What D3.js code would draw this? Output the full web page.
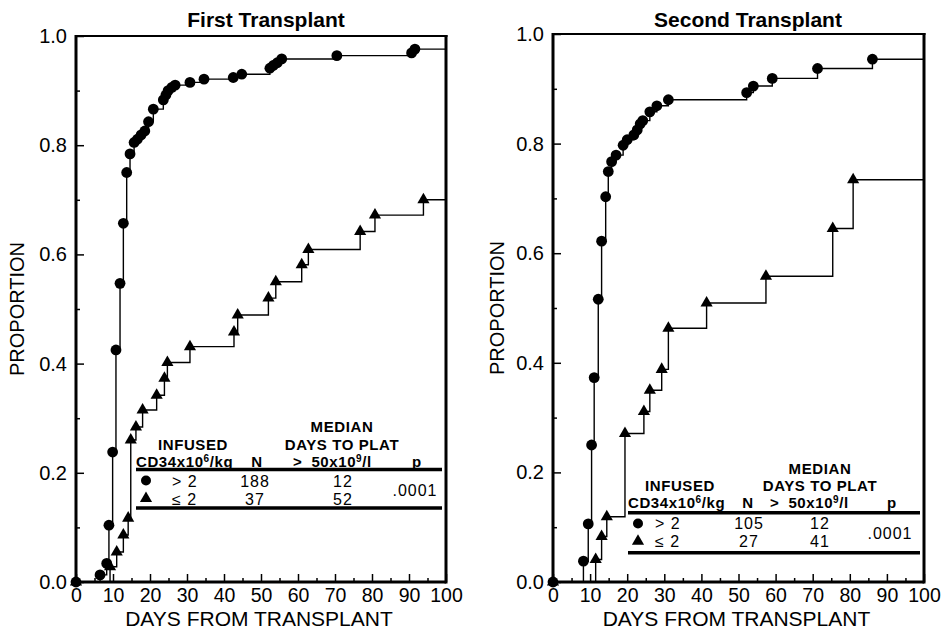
<!DOCTYPE html>
<html>
<head>
<meta charset="utf-8">
<script src="https://cdn.jsdelivr.net/npm/d3@7"></script>
<style>
  html, body { margin: 0; padding: 0; background: #fff; }
  svg { display: block; font-family: "Liberation Sans", Arial, Helvetica, sans-serif; }
</style>
</head>
<body>
<svg id="chart" width="941" height="636"></svg>
<script>
// ---------- data ----------
const panelTitles = ["First Transplant", "Second Transplant"];
const xTickValues = [0, 10, 20, 30, 40, 50, 60, 70, 80, 90, 100];
const xMinorValues = [5, 15, 25, 35, 45, 55, 65, 75, 85, 95];
const yTickValues = [0, 0.2, 0.4, 0.6, 0.8, 1.0];
const yMinorValues = [0.1, 0.3, 0.5, 0.7, 0.9];
const xAxisTitle = "DAYS FROM TRANSPLANT";
const yAxisTitle = "PROPORTION";

// First transplant, CD34 > 2 (circles)
const firstHighDays = [0, 6.5, 8.3, 8.9, 9.9, 10.8, 11.9, 12.8, 13.7, 14.6, 15.7, 16.6, 17.6, 18.6, 19.6, 20.9, 23.6, 24.3, 24.9, 25.9, 26.8, 30.8, 34.6, 42.5, 44.8, 52.4, 53.3, 54.4, 55.6, 70.5, 90.7, 91.6];
const firstHighProp = [0, 0.013, 0.034, 0.104, 0.238, 0.425, 0.547, 0.657, 0.750, 0.784, 0.805, 0.811, 0.819, 0.826, 0.843, 0.866, 0.883, 0.892, 0.900, 0.906, 0.910, 0.915, 0.921, 0.924, 0.930, 0.941, 0.946, 0.951, 0.958, 0.964, 0.969, 0.976];
// First transplant, CD34 <= 2 (triangles)
const firstLowDays = [0, 9.2, 11.0, 12.8, 14.1, 14.8, 16.2, 18.0, 21.8, 23.9, 24.7, 30.8, 42.7, 43.7, 52.0, 54.0, 61.0, 62.8, 76.8, 80.8, 93.9];
const firstLowProp = [0, 0.028, 0.055, 0.086, 0.117, 0.260, 0.284, 0.315, 0.342, 0.373, 0.402, 0.431, 0.458, 0.489, 0.520, 0.550, 0.581, 0.609, 0.642, 0.672, 0.700];
// Second transplant, CD34 > 2 (circles)
const secondHighDays = [0, 8.2, 9.5, 10.4, 11.1, 12.2, 13.1, 14.2, 14.9, 15.8, 17.0, 18.9, 20.0, 21.8, 22.7, 23.5, 24.2, 26.1, 28.0, 31.1, 52.2, 54.0, 59.1, 71.3, 86.1];
const secondHighProp = [0, 0.038, 0.106, 0.250, 0.373, 0.516, 0.622, 0.703, 0.749, 0.767, 0.779, 0.797, 0.807, 0.816, 0.825, 0.836, 0.842, 0.858, 0.869, 0.880, 0.893, 0.905, 0.919, 0.937, 0.954];
// Second transplant, CD34 <= 2 (triangles)
const secondLowDays = [0, 11.5, 13.1, 14.5, 19.4, 24.5, 26.1, 29.3, 31.1, 41.4, 57.4, 75.4, 80.9];
const secondLowProp = [0, 0.041, 0.083, 0.119, 0.271, 0.311, 0.350, 0.388, 0.463, 0.509, 0.558, 0.645, 0.734];

// Legend table
const legendGroups = ["> 2", "\u2264 2"];
const firstN = ["188", "37"];
const firstMedian = ["12", "52"];
const secondN = ["105", "27"];
const secondMedian = ["12", "41"];
const pValue = ".0001";

// ---------- layout ----------
const panels = [
  { title: panelTitles[0], xr: [76, 446], yr: [582, 36], high: [firstHighDays, firstHighProp], low: [firstLowDays, firstLowProp],
    n: firstN, med: firstMedian, titleX: 266, yTitleX: 24,
    leg: { x: 136, y: 469.5, w: 306, median: 206, infused: 57, nx: 121, gt: 157, px: 281, mk: 10, grp: 36, nv: 119, mv: 207, r1: 17, r2: 35, pv: 279, pvy: 26.5, bot: 38.5, hdr: -2.5, h2: -20, h1: -37.5 } },
  { title: panelTitles[1], xr: [553, 924], yr: [582, 34], high: [secondHighDays, secondHighProp], low: [secondLowDays, secondLowProp],
    n: secondN, med: secondMedian, titleX: 748, yTitleX: 504,
    leg: { x: 628, y: 512.7, w: 292, median: 192, infused: 52, nx: 120, gt: 142, px: 264, mk: 10, grp: 27, nv: 121, mv: 192, r1: 16.8, r2: 34.6, pv: 262, pvy: 26.3, bot: 40, hdr: -4.5, h2: -21.5, h1: -39 } }
];

const svg = d3.select("#chart");

panels.forEach(P => {
  const x = d3.scaleLinear().domain([0, 100]).range(P.xr);
  const y = d3.scaleLinear().domain([0, 1]).range(P.yr);
  const g = svg.append("g");

  // title
  g.append("text").attr("x", P.titleX).attr("y", 27).attr("text-anchor", "middle")
    .attr("font-size", 21).attr("font-weight", "bold").text(P.title);

  // axes with inward ticks
  const xAxis = g.append("g").attr("transform", `translate(0,${y(0)})`)
    .call(d3.axisBottom(x).tickValues(xTickValues).tickSizeInner(-8).tickSizeOuter(0).tickPadding(6).tickFormat(d3.format("d")));
  xAxis.select(".domain").remove();
  xAxis.selectAll("text").attr("font-size", 19.5).attr("fill", "#000").attr("font-family", null);
  xAxis.selectAll("line").attr("stroke", "#000").attr("stroke-width", 1.5);
  const xMinor = g.append("g").attr("transform", `translate(0,${y(0)})`)
    .call(d3.axisBottom(x).tickValues(xMinorValues).tickSizeInner(-4).tickSizeOuter(0).tickFormat(""));
  xMinor.select(".domain").remove();
  xMinor.selectAll("line").attr("stroke", "#000").attr("stroke-width", 1.5);

  const yAxis = g.append("g").attr("transform", `translate(${x(0)},0)`)
    .call(d3.axisLeft(y).tickValues(yTickValues).tickSizeInner(-8).tickSizeOuter(0).tickPadding(9).tickFormat(d3.format(".1f")));
  yAxis.select(".domain").remove();
  yAxis.selectAll("text").attr("font-size", 20).attr("fill", "#000").attr("font-family", null);
  yAxis.selectAll("line").attr("stroke", "#000").attr("stroke-width", 1.5);
  const yMinor = g.append("g").attr("transform", `translate(${x(0)},0)`)
    .call(d3.axisLeft(y).tickValues(yMinorValues).tickSizeInner(-4).tickSizeOuter(0).tickFormat(""));
  yMinor.select(".domain").remove();
  yMinor.selectAll("line").attr("stroke", "#000").attr("stroke-width", 1.5);

  // frame
  const fx0 = x(0), fx1 = x(100), fy0 = y(0), fy1 = y(1);
  g.append("line").attr("x1", fx0).attr("x2", fx1 + 1.5).attr("y1", fy1).attr("y2", fy1).attr("stroke", "#000").attr("stroke-width", 2);
  g.append("line").attr("x1", fx0).attr("x2", fx0).attr("y1", fy1 - 1).attr("y2", fy0 + 1.5).attr("stroke", "#000").attr("stroke-width", 3);
  g.append("line").attr("x1", fx1).attr("x2", fx1).attr("y1", fy1 - 1).attr("y2", fy0 + 1.5).attr("stroke", "#000").attr("stroke-width", 3);
  g.append("line").attr("x1", fx0).attr("x2", fx1).attr("y1", fy0).attr("y2", fy0).attr("stroke", "#000").attr("stroke-width", 3);

  // axis titles
  g.append("text").attr("x", (fx0 + fx1) / 2 - 2).attr("y", 626).attr("text-anchor", "middle")
    .attr("font-size", 21).text(xAxisTitle);
  g.append("text").attr("transform", `translate(${P.yTitleX},${(fy0 + fy1) / 2}) rotate(-90)`)
    .attr("text-anchor", "middle").attr("font-size", 20).text(yAxisTitle);

  // step curves
  const line = d3.line().x(d => x(d[0])).y(d => y(d[1])).curve(d3.curveStepAfter);
  const series = [P.low, P.high].map(([days, props]) => days.map((d, i) => [d, props[i]]));
  series.forEach(pts => {
    const ext = pts.concat([[100, pts[pts.length - 1][1]]]);
    g.append("path").datum(ext).attr("d", line).attr("fill", "none").attr("stroke", "#000").attr("stroke-width", 1.4);
  });
  const tri = d3.symbol().type(d3.symbolTriangle).size(64);
  g.selectAll(".tri").data(series[0]).join("path").attr("class", "tri")
    .attr("transform", d => `translate(${x(d[0])},${y(d[1])})`).attr("d", tri).attr("fill", "#000");
  g.selectAll(".dot").data(series[1]).join("circle").attr("class", "dot")
    .attr("cx", d => x(d[0])).attr("cy", d => y(d[1])).attr("r", 5.4).attr("fill", "#000");

  // legend table
  const L = P.leg;
  const lg = g.append("g").attr("transform", `translate(${L.x},${L.y})`);
  const hdr = (tx, ty, anchor, txt) => lg.append("text").attr("x", tx).attr("y", ty).attr("text-anchor", anchor)
    .attr("font-size", 15).attr("font-weight", "bold").attr("letter-spacing", 0.6).text(txt);
  hdr(L.median, L.h1, "middle", "MEDIAN");
  hdr(L.infused, L.h2, "middle", "INFUSED");
  hdr(L.median, L.h2, "middle", "DAYS TO PLAT");
  const cd = lg.append("text").attr("x", 0).attr("y", L.hdr).attr("font-size", 15).attr("font-weight", "bold").attr("letter-spacing", 0.6);
  cd.append("tspan").text("CD34x10");
  cd.append("tspan").attr("font-size", 10).attr("dy", -5).text("6");
  cd.append("tspan").attr("dy", 5).text("/kg");
  hdr(L.nx, L.hdr, "middle", "N");
  const gt = lg.append("text").attr("x", L.gt).attr("y", L.hdr).attr("font-size", 15).attr("font-weight", "bold").attr("letter-spacing", 0.6);
  gt.append("tspan").text(">");
  gt.append("tspan").attr("dx", 9).text("50x10");
  gt.append("tspan").attr("font-size", 10).attr("dy", -5).text("9");
  gt.append("tspan").attr("dy", 5).text("/l");
  hdr(L.px, L.hdr, "middle", "p");
  lg.append("line").attr("x1", 0).attr("x2", L.w).attr("y1", 0).attr("y2", 0).attr("stroke", "#000").attr("stroke-width", 3.5);
  lg.append("line").attr("x1", 0).attr("x2", L.w).attr("y1", L.bot).attr("y2", L.bot).attr("stroke", "#000").attr("stroke-width", 3.5);

  [L.r1, L.r2].forEach((ry, i) => {
    if (i === 0) {
      lg.append("circle").attr("cx", L.mk).attr("cy", ry - 6).attr("r", 5).attr("fill", "#000");
    } else {
      lg.append("path").attr("transform", `translate(${L.mk},${ry - 6})`).attr("d", tri).attr("fill", "#000");
    }
    const t = (tx, anchor, txt) => lg.append("text").attr("x", tx).attr("y", ry).attr("text-anchor", anchor)
      .attr("font-size", 16).attr("letter-spacing", 1).text(txt);
    t(L.grp, "start", legendGroups[i]);
    t(L.nv, "middle", P.n[i]);
    t(L.mv, "middle", P.med[i]);
  });
  lg.append("text").attr("x", L.pv).attr("y", L.pvy).attr("text-anchor", "middle").attr("font-size", 16)
    .attr("letter-spacing", 1).text(pValue);
});
</script>
</body>
</html>
